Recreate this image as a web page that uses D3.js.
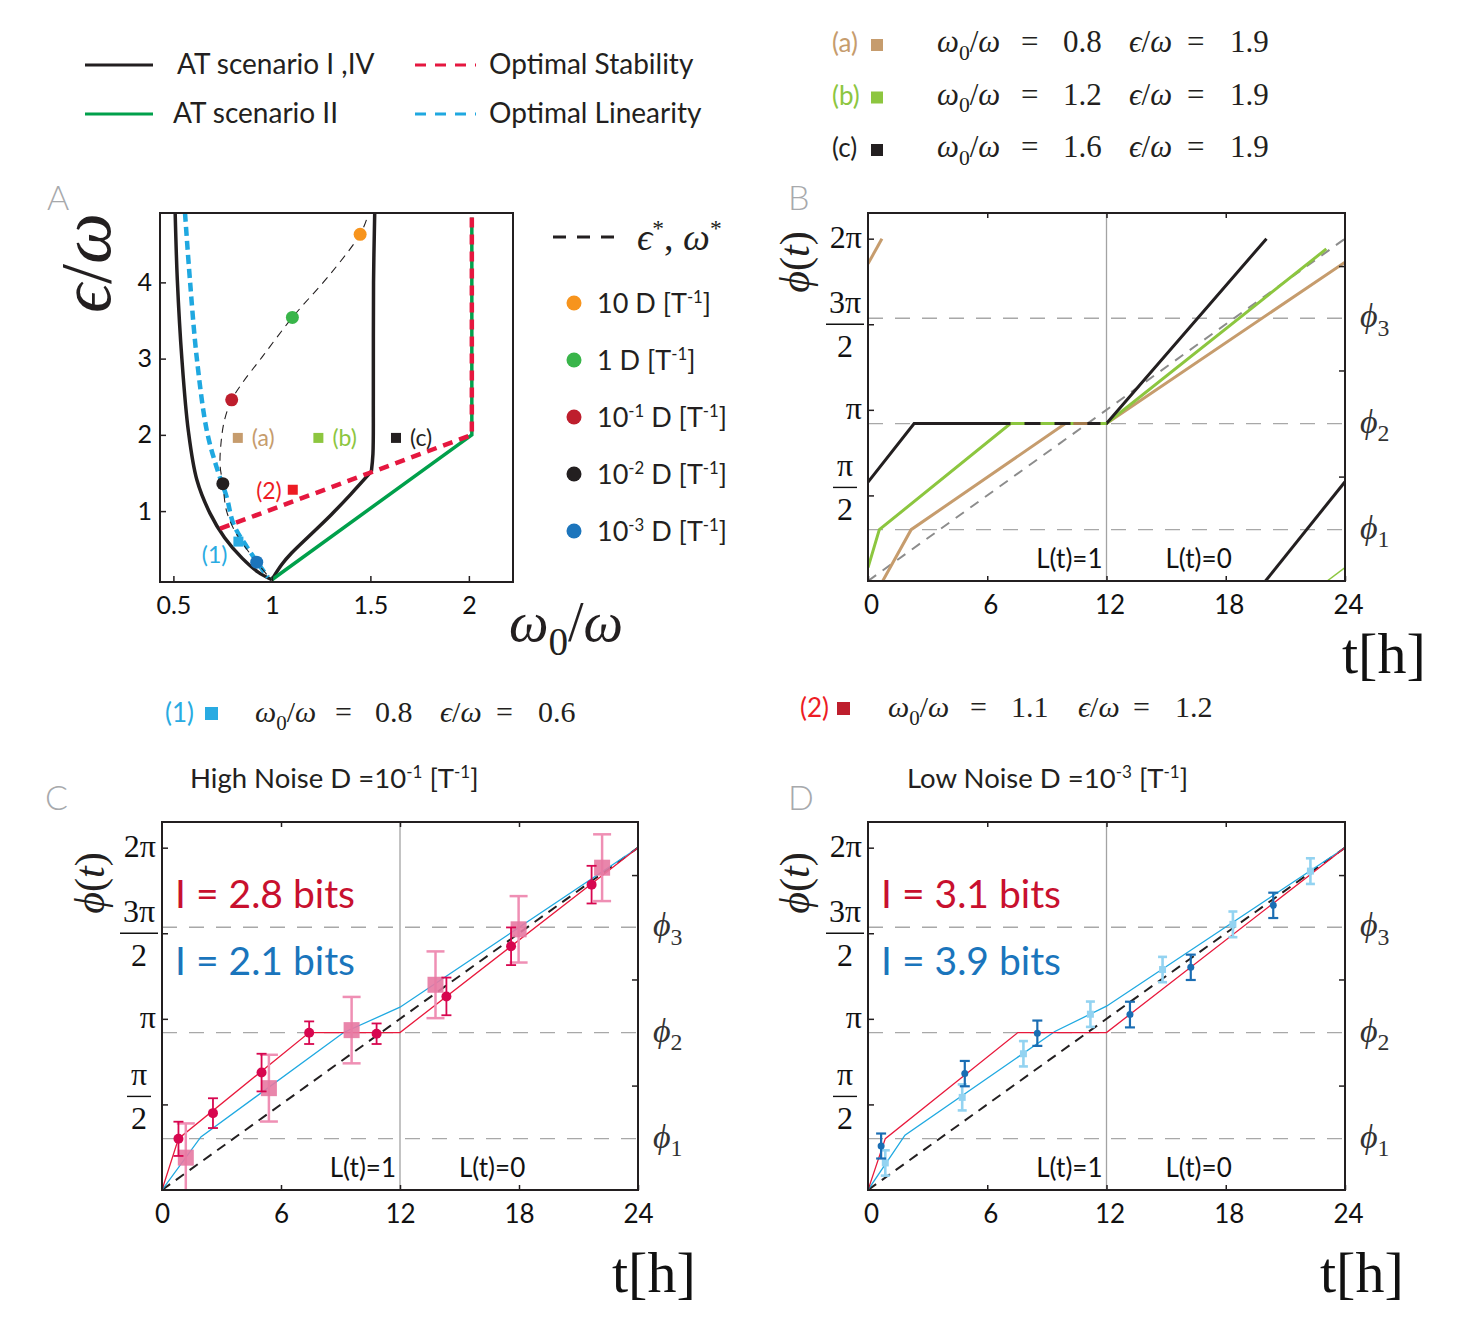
<!DOCTYPE html>
<html>
<head>
<meta charset="utf-8">
<script src="https://cdn.jsdelivr.net/npm/d3@7/dist/d3.min.js"></script>
<style>
html,body{margin:0;padding:0;background:#fff;}
svg{display:block;}
</style>
</head>
<body>
<svg id="fig" width="1469" height="1336" xmlns="http://www.w3.org/2000/svg"></svg>
<script>
// ================= DATA =================
// Top-left legend
const legendATLabels = ["AT scenario I ,IV", "AT scenario II"];
const legendOptLabels = ["Optimal Stability", "Optimal Linearity"];

// Panel A  (x: ω0/ω, y: ε/ω)
const aXTicks = [0.5, 1, 1.5, 2];
const aYTicks = [1, 2, 3, 4];
const atScenarioILeft = [[0.509,4.91],[0.52,4.03],[0.543,3.0],[0.576,2.05],[0.619,1.41],[0.686,0.97],[0.76,0.65],[0.85,0.38],[0.93,0.2],[1.0,0.1]];
const atScenarioIRightDiag = [[1.0,0.1],[1.05,0.3],[1.1,0.45],[1.2,0.7],[1.3,0.95],[1.4,1.22],[1.505,1.52]];
const atScenarioIRightVert = [[1.505,1.52],[1.513,1.75],[1.515,2.5],[1.516,4.0],[1.522,4.91]];
const atScenarioII = [[1.0,0.1],[2.015,2.0],[2.015,4.85]];
const optimalStability = [[0.737,0.77],[2.015,2.0],[2.015,4.85]];
const optimalLinearity = [[0.559,4.91],[0.584,4.03],[0.619,3.0],[0.67,2.05],[0.72,1.57],[0.771,1.18],[0.805,0.83],[0.873,0.53],[0.98,0.13]];
const epsStarOmegaStar = [[1.48,4.82],[1.448,4.63],[1.3,4.12],[1.104,3.54],[0.95,3.02],[0.85,2.68],[0.796,2.46],[0.76,2.2],[0.742,1.9],[0.737,1.6],[0.751,1.36],[0.77,1.0],[0.82,0.7],[0.923,0.33],[0.99,0.12]];
const noiseOptima = [[1.448,4.63],[1.104,3.54],[0.796,2.46],[0.751,1.36],[0.923,0.33]];
const noiseBase = ["10", "1", "10", "10", "10"];
const noiseExp = ["", "", "-1", "-2", "-3"];
const caseNames = ["(a)", "(b)", "(c)"];
const casePoints = [[0.827,1.96],[1.236,1.96],[1.63,1.96]];
const caseW0 = ["0.8", "1.2", "1.6"];
const caseEps = ["1.9", "1.9", "1.9"];
const infoNames = ["(1)", "(2)"];
const infoPoints = [[0.83,0.6],[1.106,1.28]];
const infoW0 = ["0.8", "1.1"];
const infoEps = ["0.6", "1.2"];

// Phase panels (t in hours, phase in units of π)
const tTicks = [0, 6, 12, 18, 24];
const phiLevels = [0.3, 0.92, 1.535];
const phiNames = ["1", "2", "3"];
const phaseTicks = [0.5, 1, 1.5, 2];
const phaseTickNum = ["π", "π", "3π", "2π"];
const phaseTickDen = ["2", "", "2", ""];
const rightTicks = [0.61, 1.23, 1.84];
const lightLabels = ["L(t)=1", "L(t)=0"];

// Panel B
const bCaseA = [[[0,1.853],[0.7,2.0]], [[0.74,0],[2.17,0.3],[9.93,0.92],[12,0.92],[24,1.863]]];
const bCaseB = [[[0,0.078],[0.57,0.3],[7.17,0.92],[12,0.92],[23.06,1.94]], [[23.1,0],[24,0.078]]];
const bCaseC = [[[0,0.578],[2.32,0.92],[12,0.92],[20.05,2.0]], [[20.0,0],[24,0.58]]];
const bReference = [[0,0],[24,2]];

// Panel C (high noise)
const noiseTitles = ["High Noise D =10", "Low Noise D =10"];
const noiseTitleExp = ["-1", "-3"];
const cBits = ["2.8", "2.1"];
const cStabilityLine = [[0,0],[0.83,0.3],[7.42,0.92],[12,0.92],[24,2]];
const cLinearityLine = [[0,0],[1.96,0.31],[9.16,0.92],[12,1.068],[24,2]];
const cStabilityPts = [[0.83,0.299,0.1],[2.57,0.449,0.087],[5.02,0.686,0.11],[7.42,0.919,0.066],[10.82,0.913,0.06],[14.34,1.131,0.11],[17.6,1.424,0.11],[21.66,1.784,0.11]];
const cLinearityPts = [[1.2,0.189,0.2],[5.39,0.595,0.195],[9.56,0.934,0.194],[13.79,1.199,0.195],[17.98,1.523,0.194],[22.19,1.883,0.195]];

// Panel D (low noise)
const dBits = ["3.1", "3.9"];
const dStabilityLine = [[0,0],[0.87,0.3],[7.54,0.92],[12,0.92],[24,2]];
const dLinearityLine = [[0,0],[1.86,0.32],[9.4,0.926],[12,1.074],[24,2]];
const dStabilityPts = [[0.66,0.257,0.073],[4.87,0.68,0.074],[8.52,0.916,0.074],[13.18,1.025,0.075],[16.24,1.301,0.074],[20.39,1.663,0.074]];
const dLinearityPts = [[0.87,0.158,0.074],[4.74,0.541,0.076],[7.82,0.796,0.074],[11.19,1.027,0.074],[14.82,1.288,0.074],[18.36,1.552,0.075],[22.26,1.863,0.075]];
const diagonal = [[0,0],[24,2]];

// ================= STYLE / HELPERS =================
const SANS = "Lato, 'Open Sans', 'Noto Sans', sans-serif";
const SERIF = "'Liberation Serif', 'DejaVu Serif', serif";
const INK = '#231f20';
const GRAYL = '#a7a9ac';
const svg = d3.select('#fig');
svg.append('rect').attr('width', 1469).attr('height', 1336).attr('fill', '#fff');

function rich(g, x, y, parts, o) {
  const size = o.size;
  const t = g.append('text').attr('x', x).attr('y', y)
    .attr('font-family', o.family || SANS).attr('font-size', size)
    .attr('fill', o.fill || INK).attr('text-anchor', o.anchor || 'start');
  if (o.rotate != null) t.attr('transform', `rotate(${o.rotate},${x},${y})`);
  let shift = 0;
  parts.forEach(([txt, st, ax]) => {
    st = st || '';
    let target = 0, fs = size;
    if (st.includes('sub')) { target = size * 0.25; fs = size * 0.7; }
    if (st.includes('sup')) { target = -size * 0.38; fs = size * 0.62; }
    const ts = t.append('tspan').attr('font-size', fs).attr('dy', target - shift).text(txt);
    if (ax != null) ts.attr('x', ax);
    if (st === 'i' || st === 'subi') ts.attr('font-style', 'italic');
    shift = target;
  });
  return t;
}
function w0Parts(v, x0, eq, val) { return [["ω","i"],["0","sub"],["/",""],["ω","i"],["=","",x0+eq],[v,"",x0+val]]; }
function epsParts(v, x0, eq, val) { return [["ϵ","i"],["/",""],["ω","i"],["=","",x0+eq],[v,"",x0+val]]; }
function styleAxis(g, size) {
  g.select('.domain').remove();
  g.attr('font-family', SANS).attr('font-size', size);
  g.selectAll('line').attr('stroke', INK).attr('stroke-width', 1.5);
  g.selectAll('text').attr('fill', '#111');
}

// ================= TOP-LEFT LEGEND =================
const legG = svg.append('g');
const atColors = [INK, '#00a04b'];
const optColors = ['#e5173f', '#1fa8e0'];
legendATLabels.forEach((lab, i) => {
  const yy = 65 + i * 49;
  legG.append('line').attr('x1', 85).attr('x2', 153).attr('y1', yy).attr('y2', yy)
    .attr('stroke', atColors[i]).attr('stroke-width', 3);
  legG.append('text').attr('x', i === 0 ? 177 : 173).attr('y', yy + 9)
    .attr('font-family', SANS).attr('font-size', 28).attr('fill', INK).text(lab);
});
legendOptLabels.forEach((lab, i) => {
  const yy = 65 + i * 49;
  legG.append('line').attr('x1', 415).attr('x2', 476).attr('y1', yy).attr('y2', yy)
    .attr('stroke', optColors[i]).attr('stroke-width', 3).attr('stroke-dasharray', '11,9');
  legG.append('text').attr('x', 489).attr('y', yy + 9)
    .attr('font-family', SANS).attr('font-size', 28).attr('fill', INK).text(lab);
});

// ================= TOP-RIGHT LEGEND =================
const caseColors = ['#c69c6d', '#8dc63f', INK];
caseNames.forEach((nm, i) => {
  const yy = 52 + i * 52.5;
  svg.append('text').attr('x', 832).attr('y', yy).attr('font-family', SANS).attr('font-size', 26)
    .attr('fill', caseColors[i]).text(nm);
  svg.append('rect').attr('x', 871).attr('y', yy - 13).attr('width', 12).attr('height', 12).attr('fill', caseColors[i]);
  rich(svg, 937, yy, w0Parts(caseW0[i], 937, 84, 126), { size: 31, family: SERIF });
  rich(svg, 1129, yy, epsParts(caseEps[i], 1129, 58, 101), { size: 31, family: SERIF });
});

// ================= MIDDLE LABELS (1), (2) =================
const infoText = ['#29abe2', '#ed1c24'];
const infoSq = ['#29abe2', '#be1e2d'];
const infoPos = [{ lx: 165, sx: 205, m1: 255, e1: 80, v1: 120, m2: 440, e2: 56, v2: 98, y: 722 },
                 { lx: 800, sx: 837, m1: 888, e1: 82, v1: 123, m2: 1078, e2: 55, v2: 97, y: 717 }];
infoNames.forEach((nm, i) => {
  const p = infoPos[i];
  svg.append('text').attr('x', p.lx).attr('y', p.y).attr('font-family', SANS).attr('font-size', 26)
    .attr('fill', infoText[i]).text(nm);
  svg.append('rect').attr('x', p.sx).attr('y', p.y - 15).attr('width', 13).attr('height', 13).attr('fill', infoSq[i]);
  rich(svg, p.m1, p.y, w0Parts(infoW0[i], p.m1, p.e1, p.v1), { size: 30, family: SERIF });
  rich(svg, p.m2, p.y, epsParts(infoEps[i], p.m2, p.e2, p.v2), { size: 30, family: SERIF });
});

// ================= PANEL LETTERS =================
[["A", 47, 210], ["B", 788, 210], ["C", 45, 810], ["D", 788, 810]].forEach(([L, x, y]) => {
  svg.append('text').attr('x', x).attr('y', y).attr('font-family', SANS).attr('font-size', 34)
    .attr('font-weight', 300).attr('fill', GRAYL).text(L);
});

// ================= PANEL A =================
{
  const X0 = 160, X1 = 513, Y0 = 213, Y1 = 582;
  const x = d3.scaleLinear().domain([0.432, 2.224]).range([X0, X1]);
  const y = d3.scaleLinear().domain([0.07, 4.91]).range([Y1, Y0]);
  const ln = d3.line().x(d => x(d[0])).y(d => y(d[1]));
  const lnS = d3.line().x(d => x(d[0])).y(d => y(d[1])).curve(d3.curveCatmullRom.alpha(0.5));
  svg.append('clipPath').attr('id', 'clipA').append('rect').attr('x', X0).attr('y', Y0).attr('width', X1 - X0).attr('height', Y1 - Y0);
  const g = svg.append('g');
  const plot = g.append('g').attr('clip-path', 'url(#clipA)');
  plot.append('path').attr('d', lnS(atScenarioILeft)).attr('fill', 'none').attr('stroke', INK).attr('stroke-width', 3.5);
  plot.append('path').attr('d', lnS(atScenarioIRightDiag)).attr('fill', 'none').attr('stroke', INK).attr('stroke-width', 3.5);
  plot.append('path').attr('d', lnS(atScenarioIRightVert)).attr('fill', 'none').attr('stroke', INK).attr('stroke-width', 3.5);
  plot.append('path').attr('d', ln(atScenarioII)).attr('fill', 'none').attr('stroke', '#00a04b').attr('stroke-width', 3.5);
  plot.append('path').attr('d', lnS(optimalLinearity)).attr('fill', 'none').attr('stroke', '#1fa8e0').attr('stroke-width', 4.5).attr('stroke-dasharray', '9,5');
  plot.append('path').attr('d', ln(optimalStability)).attr('fill', 'none').attr('stroke', '#e5173f').attr('stroke-width', 4.5).attr('stroke-dasharray', '10,7');
  plot.append('path').attr('d', lnS(epsStarOmegaStar)).attr('fill', 'none').attr('stroke', INK).attr('stroke-width', 1.1).attr('stroke-dasharray', '8,6');
  const dotColors = ['#f7941d', '#39b54a', '#be1e2d', '#231f20', '#1c75bc'];
  plot.selectAll('circle.opt').data(noiseOptima).join('circle')
    .attr('cx', d => x(d[0])).attr('cy', d => y(d[1])).attr('r', 6.5).attr('fill', (d, i) => dotColors[i]);
  casePoints.forEach((d, i) => {
    g.append('rect').attr('x', x(d[0]) - 5).attr('y', y(d[1]) - 5).attr('width', 10).attr('height', 10).attr('fill', caseColors[i]);
    g.append('text').attr('x', x(d[0]) + 14).attr('y', y(d[1]) + 8).attr('font-family', SANS).attr('font-size', 23)
      .attr('fill', caseColors[i]).text(caseNames[i]);
  });
  const infoAText = ['#29abe2', '#ed1c24'];
  const infoDy = [21, 9];
  infoPoints.forEach((d, i) => {
    g.append('rect').attr('x', x(d[0]) - 5).attr('y', y(d[1]) - 5).attr('width', 10).attr('height', 10).attr('fill', infoAText[i]);
    g.append('text').attr('x', x(d[0]) - 11).attr('y', y(d[1]) + infoDy[i]).attr('text-anchor', 'end')
      .attr('font-family', SANS).attr('font-size', 23).attr('fill', infoAText[i]).text(infoNames[i]);
  });
  g.append('rect').attr('x', X0).attr('y', Y0).attr('width', X1 - X0).attr('height', Y1 - Y0)
    .attr('fill', 'none').attr('stroke', INK).attr('stroke-width', 2);
  const ax = g.append('g').attr('transform', `translate(0,${Y1})`)
    .call(d3.axisBottom(x).tickValues(aXTicks).tickSize(-6).tickPadding(14).tickFormat(d => String(d)));
  styleAxis(ax, 25);
  const ay = g.append('g').attr('transform', `translate(${X0},0)`)
    .call(d3.axisLeft(y).tickValues(aYTicks).tickSize(-6).tickPadding(8).tickFormat(d => String(d)));
  styleAxis(ay, 25);
  // axis titles
  rich(g, 110, 263, [["ϵ", "i"], ["/", ""], ["ω", "i"]], { size: 72, family: SERIF, anchor: 'middle', rotate: -90 });
  rich(g, 566, 641, [["ω", "i"], ["0", "sub"], ["/", ""], ["ω", "i"]], { size: 56, family: SERIF, anchor: 'middle' });

  // right legend
  g.append('line').attr('x1', 553).attr('x2', 615).attr('y1', 237).attr('y2', 237)
    .attr('stroke', INK).attr('stroke-width', 3).attr('stroke-dasharray', '13,11');
  rich(g, 637, 250, [["ϵ", "i"], ["*", "sup"], [", ", ""], ["ω", "i"], ["*", "sup"]], { size: 38, family: SERIF });
  noiseBase.forEach((b, i) => {
    const yy = 303 + i * 57;
    g.append('circle').attr('cx', 574).attr('cy', yy).attr('r', 7.5).attr('fill', dotColors[i]);
    const parts = [[b, ""]];
    if (noiseExp[i]) parts.push([noiseExp[i], "sup"]);
    parts.push([" D [T", ""], ["-1", "sup"], ["]", ""]);
    rich(g, 597, yy + 10, parts, { size: 27 });
  });
}

// ================= PHASE PANELS =================
const Y_TOP = 2.15;
function phasePanel(o) {
  const x = d3.scaleLinear().domain([0, 24]).range([o.x0, o.x1]);
  const y = d3.scaleLinear().domain([0, Y_TOP]).range([o.y1, o.y0]);
  const cid = 'clip' + o.id;
  svg.append('clipPath').attr('id', cid).append('rect').attr('x', o.x0).attr('y', o.y0)
    .attr('width', o.x1 - o.x0).attr('height', o.y1 - o.y0);
  const g = svg.append('g');
  const grid = g.append('g');
  grid.selectAll('line.phi').data(phiLevels).join('line')
    .attr('x1', o.x0).attr('x2', o.x1).attr('y1', d => y(d)).attr('y2', d => y(d))
    .attr('stroke', '#a8a8a8').attr('stroke-width', 1.3).attr('stroke-dasharray', '15,12');
  grid.append('line').attr('x1', x(12)).attr('x2', x(12)).attr('y1', o.y0).attr('y2', o.y1)
    .attr('stroke', '#a3a3a3').attr('stroke-width', 1.3);
  const plot = g.append('g').attr('clip-path', `url(#${cid})`);
  const top = g.append('g');
  top.append('rect').attr('x', o.x0).attr('y', o.y0).attr('width', o.x1 - o.x0).attr('height', o.y1 - o.y0)
    .attr('fill', 'none').attr('stroke', INK).attr('stroke-width', 2);
  const ab = top.append('g').attr('transform', `translate(0,${o.y1})`)
    .call(d3.axisBottom(x).tickValues(tTicks).tickSize(-5).tickPadding(15));
  styleAxis(ab, 26);
  ab.selectAll('text').attr('dx', o.dx || 0);
  const at = top.append('g').attr('transform', `translate(0,${o.y0})`)
    .call(d3.axisTop(x).tickValues([6, 12, 18]).tickSize(-5).tickFormat(() => ''));
  styleAxis(at, 10);
  const al = top.append('g').attr('transform', `translate(${o.x0},0)`)
    .call(d3.axisLeft(y).tickValues(phaseTicks).tickSize(-6).tickFormat(() => ''));
  styleAxis(al, 10);
  const ar = top.append('g').attr('transform', `translate(${o.x1},0)`)
    .call(d3.axisRight(y).tickValues(rightTicks).tickSize(-6).tickFormat(() => ''));
  styleAxis(ar, 10);
  phaseTicks.forEach((v, i) => {
    const num = phaseTickNum[i], den = phaseTickDen[i];
    if (!den) {
      top.append('text').attr('x', o.x0 - 6).attr('y', y(v) + 9).attr('text-anchor', 'end')
        .attr('font-family', SERIF).attr('font-size', 32).attr('fill', '#111').text(num);
    } else {
      const off = v < 1 ? -8 : 0;
      const cx = o.x0 - 23;
      const wide = num.length > 1 ? 19 : 12;
      top.append('text').attr('x', cx).attr('y', y(v) + off - 11).attr('text-anchor', 'middle')
        .attr('font-family', SERIF).attr('font-size', 32).attr('fill', '#111').text(num);
      top.append('line').attr('x1', cx - wide).attr('x2', cx + wide).attr('y1', y(v) + off).attr('y2', y(v) + off)
        .attr('stroke', '#111').attr('stroke-width', 1.4);
      top.append('text').attr('x', cx).attr('y', y(v) + off + 33).attr('text-anchor', 'middle')
        .attr('font-family', SERIF).attr('font-size', 32).attr('fill', '#111').text(den);
    }
  });
  phiLevels.forEach((v, i) => {
    rich(top, o.x1 + 15, y(v) + 9, [["ϕ", "i"], [phiNames[i], "sub"]], { size: 34, family: SERIF, fill: '#333' });
  });
  top.append('text').attr('x', x(12) - 4).attr('y', o.y1 - 13).attr('text-anchor', 'end')
    .attr('font-family', SANS).attr('font-size', 26).attr('fill', '#111').text(lightLabels[0]);
  top.append('text').attr('x', x(12) + 59).attr('y', o.y1 - 13)
    .attr('font-family', SANS).attr('font-size', 26).attr('fill', '#111').text(lightLabels[1]);
  rich(top, o.phx, o.phy, [["ϕ", "i"], ["(", ""], ["t", "i"], [")", ""]], { size: 42, family: SERIF, anchor: 'middle', rotate: -90 });
  top.append('text').attr('x', o.thx).attr('y', o.thy).attr('font-family', SERIF).attr('font-size', 58)
    .attr('fill', '#111').text('t[h]');
  return { x, y, plot, top, g };
}

// ---------- Panel B ----------
{
  const P = phasePanel({ id: 'B', x0: 868, x1: 1345, y0: 213, y1: 581, phx: 809, phy: 262, thx: 1342, thy: 673, dx: 3 });
  const ln = d3.line().x(d => P.x(d[0])).y(d => P.y(d[1]));
  P.plot.append('path').attr('d', ln(bReference)).attr('fill', 'none').attr('stroke', '#8c8c8c')
    .attr('stroke-width', 2).attr('stroke-dasharray', '10,8');
  const bColors = ['#c69c6d', '#8cc63f', INK];
  [bCaseA, bCaseB, bCaseC].forEach((segs, i) => {
    segs.forEach((s, j) => {
      P.plot.append('path').attr('d', ln(s)).attr('fill', 'none').attr('stroke', bColors[i])
        .attr('stroke-width', (i === 1 && j === 1) ? 1.5 : 3);
    });
  });
  [bCaseB, bCaseA].forEach((segs, i) => {
    const plateau = segs[i === 0 ? 0 : 1].filter(p => p[1] === 0.92);
    P.plot.append('path').attr('d', ln(plateau)).attr('fill', 'none').attr('stroke', i === 0 ? '#8cc63f' : '#a47a4e')
      .attr('stroke-width', 3).attr('stroke-dasharray', i === 0 ? '14,16' : '14,30').attr('stroke-dashoffset', i === 0 ? 0 : -8);
  });
}

// ---------- Panels C, D ----------
function noisePanel(o, bits, stabLine, linLine, stabPts, linPts, k) {
  const P = phasePanel(o);
  const ln = d3.line().x(d => P.x(d[0])).y(d => P.y(d[1]));
  P.plot.append('path').attr('d', ln(diagonal)).attr('fill', 'none').attr('stroke', INK)
    .attr('stroke-width', 2).attr('stroke-dasharray', '10,7');
  P.plot.append('path').attr('d', ln(linLine)).attr('fill', 'none').attr('stroke', '#1fa9e1').attr('stroke-width', 1.3);
  P.plot.append('path').attr('d', ln(stabLine)).attr('fill', 'none').attr('stroke', '#e8193c').attr('stroke-width', 1.3);
  const drawBars = (pts, color, half, sw) => {
    pts.forEach(d => {
      const xx = P.x(d[0]), ya = P.y(d[1] - d[2]), yb = P.y(d[1] + d[2]);
      P.plot.append('line').attr('x1', xx).attr('x2', xx).attr('y1', ya).attr('y2', yb).attr('stroke', color).attr('stroke-width', sw);
      [ya, yb].forEach(yy => P.plot.append('line').attr('x1', xx - half).attr('x2', xx + half).attr('y1', yy).attr('y2', yy)
        .attr('stroke', color).attr('stroke-width', sw));
    });
  };
  if (k === 'C') {
    drawBars(linPts, '#ef8fb4', 9, 2.5);
    linPts.forEach(d => P.plot.append('rect').attr('x', P.x(d[0]) - 8).attr('y', P.y(d[1]) - 8).attr('width', 16).attr('height', 16)
      .attr('fill', '#e779a2').attr('opacity', 0.9));
    drawBars(stabPts, '#d7064f', 5, 1.8);
    stabPts.forEach(d => P.plot.append('circle').attr('cx', P.x(d[0])).attr('cy', P.y(d[1])).attr('r', 5).attr('fill', '#d7064f'));
  } else {
    drawBars(linPts, '#93d3f1', 4.5, 2.6);
    linPts.forEach(d => P.plot.append('rect').attr('x', P.x(d[0]) - 3.5).attr('y', P.y(d[1]) - 3.5).attr('width', 7).attr('height', 7)
      .attr('fill', '#93d3f1'));
    drawBars(stabPts, '#1a6db3', 5, 2.2);
    stabPts.forEach(d => P.plot.append('circle').attr('cx', P.x(d[0])).attr('cy', P.y(d[1])).attr('r', 3.5).attr('fill', '#1a6db3'));
  }
  const bitColors = ['#c8102e', '#1a75bc'];
  bits.forEach((b, i) => {
    P.top.append('text').attr('x', o.x0 + 13).attr('y', o.y0 + 86 + i * 67).attr('font-family', SANS).attr('font-size', 39)
      .attr('fill', bitColors[i]).text('I = ' + b + ' bits');
  });
  const ti = k === 'C' ? 0 : 1;
  rich(svg, o.tx, o.ty, [[noiseTitles[ti], ""], [noiseTitleExp[ti], "sup"], [" [T", ""], ["-1", "sup"], ["]", ""]], { size: 27.5 });
}
noisePanel({ id: 'C', x0: 162, x1: 638, y0: 822, y1: 1190, phx: 104, phy: 883, thx: 612, thy: 1292, tx: 190, ty: 788, dx: 0 },
  cBits, cStabilityLine, cLinearityLine, cStabilityPts, cLinearityPts, 'C');
noisePanel({ id: 'D', x0: 868, x1: 1345, y0: 822, y1: 1190, phx: 809, phy: 883, thx: 1320, thy: 1292, tx: 907, ty: 788, dx: 3 },
  dBits, dStabilityLine, dLinearityLine, dStabilityPts, dLinearityPts, 'D');
</script>
</body>
</html>
